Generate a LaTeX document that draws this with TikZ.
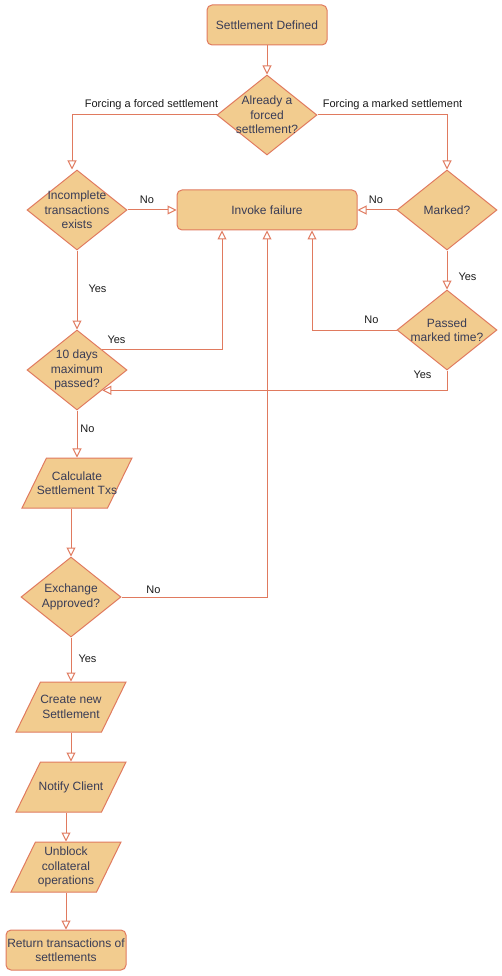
\documentclass[tikz,border=0pt]{standalone}
\usepackage{fontspec}
\setmainfont{Liberation Sans}
\usetikzlibrary{arrows.meta,shapes.geometric}
\definecolor{sand}{RGB}{242,204,143}
\definecolor{coral}{RGB}{224,122,95}
\definecolor{ink}{RGB}{57,60,86}
\definecolor{lbl}{RGB}{26,26,26}
\tikzset{
  ntext/.style={align=center,text=ink,font=\fontsize{12}{14.4}\selectfont,inner sep=0pt},
  term/.style={rectangle,rounded corners=5pt,draw=coral,fill=sand,line width=1pt,minimum width=120pt,minimum height=40pt,ntext},
  dec/.style={diamond,draw=coral,fill=sand,line width=1pt,minimum width=100pt,minimum height=80pt,inner sep=0pt,label={[ntext]center:#1}},
  io/.style={trapezium,trapezium left angle=68.2,trapezium right angle=111.8,trapezium stretches=true,draw=coral,fill=sand,line width=1pt,minimum width=110pt,minimum height=50pt,inner sep=2pt,label={[ntext]center:#1}},
  arr/.style={draw=coral,line width=1pt,-{Triangle[open,fill=white,length=9pt,width=9pt]}},
  lab/.style={text=lbl,font=\fontsize{11}{13}\selectfont,inner sep=0pt},
}
\begin{document}
\begin{tikzpicture}[x=1pt,y=-1pt]
 \useasboundingbox (0,0) rectangle (502,976);
 % main column
 \node[term] (start) at (267,25) {Settlement Defined};
 \node[dec={Already a\\forced\\settlement?}] (forced) at (267,115) {};
 \node[dec={Incomplete\\transactions\\exists}] (incomp) at (77,210) {};
 \node[term,minimum width=180pt] (fail) at (267,210) {Invoke failure};
 \node[dec={Marked?}] (marked) at (447,210) {};
 \node[dec={Passed\\marked time?}] (passed) at (447,330) {};
 \node[dec={10 days\\maximum\\passed?}] (tendays) at (77,370) {};
 \node[io={Calculate\\Settlement Txs}] (calc) at (77,483) {};
 \node[dec={Exchange\\Approved?}] (exch) at (71,597) {};
 \node[io={Create new\\Settlement}] (create) at (71,707) {};
 \node[io={Notify Client}] (notify) at (71,787) {};
 \node[io={Unblock\\collateral\\operations}] (unblock) at (66,867) {};
 \node[term] (ret) at (66,950) {Return transactions of\\settlements};
 % connectors
 \draw[arr] (start) -- (forced);
 \draw[arr] (forced.west) -| ([xshift=-5pt]incomp.north);
 \draw[arr] (forced.east) -| (marked.north);
 \draw[arr] (incomp.east) -- (fail.west);
 \draw[arr] (marked.west) -- (fail.east);
 \draw[arr] (incomp.south) -- (tendays.north);
 \draw[arr] (marked.south) -- (passed.north);
 \draw[arr] (tendays.north east) -| ([xshift=-45pt]fail.south);
 \draw[arr] (passed.west) -| ([xshift=45pt]fail.south);
 \draw[arr] (passed.south) |- (tendays.south east);
 \draw[arr] (tendays.south) -- (calc.north);
 \draw[arr] (calc.south -| exch.north) -- (exch.north);
 \draw[arr] (exch.east) -| (fail.south);
 \draw[arr] (exch.south) -- (create.north);
 \draw[arr] (create.south) -- (notify.north);
 \draw[arr] (notify.south -| unblock.north) -- (unblock.north);
 \draw[arr] (unblock.south) -- (ret.north);
 % edge labels
 \node[lab] (l1) at (151.5,105) {Forcing a forced settlement};
 \node[lab] (l2) at (392.5,105) {Forcing a marked settlement};
 \node[lab] (l3) at (147,200) {No};
 \node[lab] (l4) at (376,200) {No};
 \node[lab] (l5) at (97.5,289) {Yes};
 \node[lab] (l6) at (116.5,340) {Yes};
 \node[lab] (l7) at (467.5,277) {Yes};
 \node[lab] (l8) at (371.5,320) {No};
 \node[lab] (l9) at (422.5,375) {Yes};
 \node[lab] (l10) at (87.5,429) {No};
 \node[lab] (l11) at (153.5,590) {No};
 \node[lab] (l12) at (87.5,659) {Yes};
\end{tikzpicture}
\end{document}
